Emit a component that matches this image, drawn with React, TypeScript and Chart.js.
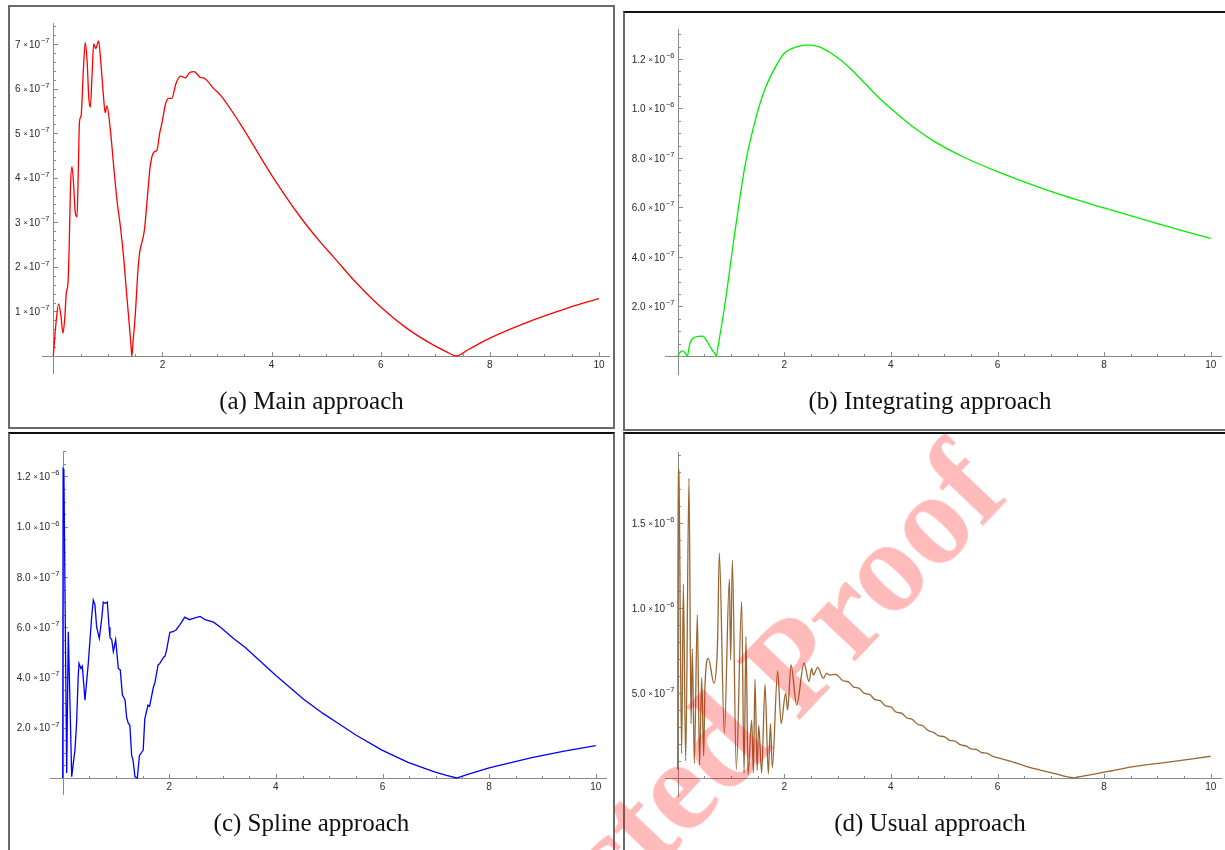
import React, { useEffect, useRef } from 'react';
import { Chart, registerables } from 'chart.js';

Chart.register(...registerables);

// values are in units of 1e-7
const UNIT = 1e-7;

const xTickValues = [2, 4, 6, 8, 10];
const xTickLabels = ['2', '4', '6', '8', '10'];

// (a) Main approach
const mainX = [0, 0.05, 0.097, 0.14, 0.177, 0.21, 0.238, 0.27, 0.29, 0.315, 0.342, 0.37, 0.4, 0.434, 0.455, 0.48, 0.51, 0.55, 0.586, 0.62, 0.65, 0.678, 0.71, 0.74, 0.78, 0.83, 0.87, 0.92, 0.95, 0.983, 1.044, 1.1, 1.166, 1.23, 1.288, 1.34, 1.38, 1.42, 1.44, 1.46, 1.5, 1.55, 1.58, 1.62, 1.67, 1.73, 1.77, 1.807, 1.85, 1.9, 1.95, 1.99, 2.05, 2.08, 2.12, 2.17, 2.25, 2.33, 2.42, 2.5, 2.58, 2.64, 2.69, 2.75, 2.81, 2.94, 3.06, 3.42, 4.0, 4.52, 4.89, 5.13, 5.5, 5.99, 6.48, 6.96, 7.2, 7.39, 7.6, 8.0, 8.8, 9.41, 10];
const mainY = [0, 0.75, 1.17, 0.9, 0.51, 0.85, 1.41, 1.65, 2.4, 3.8, 4.25, 3.9, 3.25, 3.12, 4.0, 5.26, 5.4, 6.4, 7.03, 6.6, 5.8, 5.58, 6.3, 7.0, 6.9, 7.07, 6.6, 5.82, 5.46, 5.61, 5.09, 4.35, 3.5, 2.9, 2.23, 1.45, 0.88, 0.3, 0, 0.3, 0.88, 1.9, 2.3, 2.53, 2.83, 3.65, 4.2, 4.47, 4.58, 4.62, 5.0, 5.22, 5.62, 5.74, 5.78, 5.78, 6.12, 6.28, 6.24, 6.36, 6.38, 6.32, 6.25, 6.24, 6.19, 6.0, 5.86, 5.22, 4.06, 3.13, 2.56, 2.23, 1.71, 1.11, 0.62, 0.25, 0.1, 0, 0.14, 0.4, 0.81, 1.07, 1.29];

// (b) Integrating approach
const integX = [0, 0.05, 0.1, 0.14, 0.18, 0.22, 0.26, 0.35, 0.47, 0.53, 0.62, 0.7, 0.726, 0.75, 0.88, 1.07, 1.26, 1.44, 1.63, 1.82, 2.0, 2.25, 2.44, 2.64, 2.88, 3.2, 3.51, 3.82, 4.14, 4.45, 4.82, 5.4, 6.0, 7.0, 8.0, 9.0, 10.0];
const integY = [0, 0.16, 0.21, 0.12, 0, 0.42, 0.65, 0.78, 0.8, 0.66, 0.33, 0.08, 0, 0.3, 2.0, 4.96, 7.65, 9.4, 10.75, 11.62, 12.23, 12.5, 12.57, 12.5, 12.23, 11.7, 11.02, 10.34, 9.74, 9.2, 8.66, 8.0, 7.45, 6.65, 5.98, 5.35, 4.75];

// (c) Spline approach
const splineX = [0, 0.008, 0.022, 0.075, 0.105, 0.169, 0.2, 0.23, 0.26, 0.29, 0.306, 0.343, 0.368, 0.418, 0.48, 0.544, 0.574, 0.605, 0.637, 0.687, 0.73, 0.762, 0.8, 0.837, 0.87, 0.887, 0.92, 0.95, 0.994, 1.043, 1.08, 1.12, 1.137, 1.17, 1.2, 1.23, 1.26, 1.294, 1.32, 1.356, 1.4, 1.44, 1.51, 1.54, 1.6, 1.63, 1.7, 1.73, 1.79, 1.82, 1.89, 1.92, 1.95, 2.01, 2.07, 2.13, 2.2, 2.29, 2.38, 2.45, 2.58, 2.67, 2.83, 2.96, 3.2, 3.42, 4.0, 4.52, 4.89, 5.13, 5.5, 5.99, 6.48, 6.96, 7.2, 7.39, 7.6, 8.0, 8.8, 9.41, 10];
const splineY = [0, 12.3, 12.25, 0.2, 5.82, 0.05, 0.6, 1.11, 2.17, 4.0, 4.56, 4.36, 4.45, 3.1, 4.56, 6.42, 7.08, 6.9, 6.0, 5.56, 6.3, 7.0, 6.95, 7.0, 6.0, 5.6, 5.5, 5.03, 5.5, 4.36, 4.3, 3.3, 3.24, 3.1, 2.4, 2.18, 2.1, 0.9, 0.7, 0.05, 0, 0.9, 1.1, 2.35, 2.9, 2.85, 3.6, 3.8, 4.5, 4.55, 4.8, 4.85, 5.1, 5.8, 5.82, 5.9, 6.1, 6.4, 6.3, 6.35, 6.43, 6.3, 6.2, 6.0, 5.56, 5.2, 4.08, 3.13, 2.56, 2.23, 1.71, 1.11, 0.62, 0.25, 0.1, 0, 0.14, 0.4, 0.81, 1.07, 1.29];

// (d) Usual approach
const usualX = [0, 0.008, 0.02, 0.074, 0.106, 0.15, 0.212, 0.25, 0.274, 0.312, 0.368, 0.41, 0.45, 0.487, 0.512, 0.575, 0.681, 0.735, 0.75, 0.781, 0.875, 0.969, 0.994, 1.025, 1.1, 1.2, 1.245, 1.281, 1.32, 1.388, 1.42, 1.45, 1.49, 1.52, 1.575, 1.638, 1.7, 1.74, 1.775, 1.875, 1.94, 2.025, 2.063, 2.126, 2.232, 2.37, 2.463, 2.513, 2.545, 2.626, 2.732, 2.795, 2.85, 2.951, 3.0, 3.1, 3.2, 3.3, 3.4, 3.5, 3.6, 3.7, 3.8, 3.9, 4.0, 4.1, 4.2, 4.3, 4.4, 4.5, 4.6, 4.7, 4.8, 4.9, 5.0, 5.1, 5.2, 5.3, 5.42, 5.5, 5.6, 5.7, 5.8, 5.9, 6.05, 6.2, 6.4, 6.6, 6.8, 7.0, 7.2, 7.35, 7.42, 7.5, 8.05, 8.55, 9.17, 10.0];
const usualY = [0.5, 18.2, 18.1, 1.45, 11.4, 1.0, 17.63, 3.2, 7.6, 0.86, 9.6, 0.77, 5.9, 1.3, 5.4, 7.04, 5.57, 6.94, 8.3, 13.22, 2.63, 11.69, 6.94, 12.82, 0.5, 10.37, 0.3, 8.31, 0.2, 3.41, 0.3, 5.8, 0.45, 3.1, 0.3, 5.5, 0.25, 3.2, 0.6, 6.3, 3.2, 4.98, 4.0, 6.65, 4.29, 6.75, 5.67, 6.45, 6.06, 6.51, 5.86, 6.16, 6.05, 6.1, 6.03, 5.72, 5.66, 5.35, 5.29, 4.98, 4.92, 4.61, 4.55, 4.24, 4.18, 3.87, 3.81, 3.53, 3.45, 3.16, 3.07, 2.79, 2.68, 2.48, 2.43, 2.22, 2.17, 1.96, 1.87, 1.72, 1.68, 1.5, 1.46, 1.29, 1.16, 1.02, 0.83, 0.63, 0.47, 0.32, 0.16, 0.05, 0, 0.05, 0.37, 0.67, 0.92, 1.28];

// y tick values (units of 1e-7) and labels
const yTicksMain = [1, 2, 3, 4, 5, 6, 7];
const yLabelsMain = ['1×10^−7', '2×10^−7', '3×10^−7', '4×10^−7', '5×10^−7', '6×10^−7', '7×10^−7'];
const yTicksInteg = [2, 4, 6, 8, 10, 12];
const yLabelsInteg = ['2.0×10^−7', '4.0×10^−7', '6.0×10^−7', '8.0×10^−7', '1.0×10^−6', '1.2×10^−6'];
const yTicksSpline = [2, 4, 6, 8, 10, 12];
const yLabelsSpline = ['2.0×10^−7', '4.0×10^−7', '6.0×10^−7', '8.0×10^−7', '1.0×10^−6', '1.2×10^−6'];
const yTicksUsual = [5, 10, 15];
const yLabelsUsual = ['5.0×10^−7', '1.0×10^−6', '1.5×10^−6'];

const captions = ['(a) Main approach', '(b) Integrating approach', '(c) Spline approach', '(d) Usual approach'];
const watermark = 'Uncorrected Proof';

const AXIS_COLOR = '#8a8a8a';
const LABEL_COLOR = '#2a2a2a';
const X_MINOR = 0.5;

type PanelCfg = {
  key: string;
  color: string;
  xs: number[];
  ys: number[];
  yTicks: number[];
  yLabels: string[];
  yMinor: number;
  smooth: boolean;
  canvas: { left: number; top: number; width: number; height: number };
  area: { left: number; top: number; right: number; bottom: number };
  xRange: [number, number];
  yRange: [number, number];
};

const PANELS: PanelCfg[] = [
  {
    key: 'a', color: '#ff0000', xs: mainX, ys: mainY, yTicks: yTicksMain, yLabels: yLabelsMain, yMinor: 0.2, smooth: true,
    canvas: { left: 10, top: 7, width: 603, height: 380 },
    area: { left: 42, top: 23, right: 610, bottom: 374 },
    xRange: [-0.2071, 10.2016], yRange: [-0.4039, 7.4714],
  },
  {
    key: 'b', color: '#00ee00', xs: integX, ys: integY, yTicks: yTicksInteg, yLabels: yLabelsInteg, yMinor: 0.5, smooth: true,
    canvas: { left: 625, top: 13, width: 600, height: 380 },
    area: { left: 665, top: 29, right: 1222, bottom: 375 },
    xRange: [-0.2383, 10.212], yRange: [-0.768, 13.212],
  },
  {
    key: 'c', color: '#0000ff', xs: splineX, ys: splineY, yTicks: yTicksSpline, yLabels: yLabelsSpline, yMinor: 0.5, smooth: false,
    canvas: { left: 10, top: 434, width: 603, height: 380 },
    area: { left: 50, top: 451, right: 607, bottom: 795 },
    xRange: [-0.2383, 10.212], yRange: [-0.6765, 13.012],
  },
  {
    key: 'd', color: '#996633', xs: usualX, ys: usualY, yTicks: yTicksUsual, yLabels: yLabelsUsual, yMinor: 1, smooth: true,
    canvas: { left: 625, top: 434, width: 600, height: 380 },
    area: { left: 665, top: 452, right: 1222, bottom: 797 },
    xRange: [-0.2383, 10.212], yRange: [-1.1176, 19.176],
  },
];

function drawSci(ctx: CanvasRenderingContext2D, right: number, midY: number, label: string) {
  const [mant, exp] = label.split('×10^');
  const fMain = '10px "Liberation Sans", Arial, sans-serif';
  const fTimes = '8px "Liberation Sans", Arial, sans-serif';
  const fSup = '7.5px "Liberation Sans", Arial, sans-serif';
  ctx.font = fMain;
  const wM = ctx.measureText(mant).width;
  const w10 = ctx.measureText('10').width;
  ctx.font = fTimes;
  const wT = ctx.measureText('×').width;
  ctx.font = fSup;
  const wE = ctx.measureText(exp).width;
  const g1 = 2.6, g2 = 1.2, g3 = 0.8;
  const total = wM + g1 + wT + g2 + w10 + g3 + wE;
  let x = right - total;
  const base = midY + 3.6;
  ctx.textAlign = 'left';
  ctx.textBaseline = 'alphabetic';
  ctx.font = fMain;
  ctx.fillText(mant, x, base);
  x += wM + g1;
  ctx.font = fTimes;
  ctx.fillText('×', x, base - 0.6);
  x += wT + g2;
  ctx.font = fMain;
  ctx.fillText('10', x, base);
  x += w10 + g3;
  ctx.font = fSup;
  ctx.fillText(exp, x, base - 4.6);
}

function axesPlugin(p: PanelCfg) {
  return {
    id: 'mmaAxes_' + p.key,
    beforeDatasetsDraw(chart: any) {
      const { ctx, chartArea: a, scales } = chart;
      const xs = scales.x;
      const ys = scales.y;
      const px0 = Math.round(xs.getPixelForValue(0)) + 0.5;
      const py0 = Math.round(ys.getPixelForValue(0)) + 0.5;
      ctx.save();
      ctx.strokeStyle = AXIS_COLOR;
      ctx.lineWidth = 1;
      ctx.beginPath();
      ctx.moveTo(a.left, py0);
      ctx.lineTo(a.right, py0);
      ctx.moveTo(px0, a.top);
      ctx.lineTo(px0, a.bottom);
      for (let k = 1; k * X_MINOR <= xs.max + 1e-9; k++) {
        const v = k * X_MINOR;
        const major = xTickValues.some((t) => Math.abs(t - v) < 1e-9);
        const px = Math.round(xs.getPixelForValue(v)) + 0.5;
        ctx.moveTo(px, py0);
        ctx.lineTo(px, py0 - (major ? 4.5 : 2.5));
      }
      const yMaxU = ys.max / UNIT;
      for (let k = 1; k * p.yMinor <= yMaxU + 1e-9; k++) {
        const v = k * p.yMinor;
        const major = p.yTicks.some((t) => Math.abs(t - v) < 1e-9);
        const py = Math.round(ys.getPixelForValue(v * UNIT)) + 0.5;
        ctx.moveTo(px0, py);
        ctx.lineTo(px0 + (major ? 4.5 : 2.5), py);
      }
      ctx.stroke();
      ctx.fillStyle = LABEL_COLOR;
      ctx.font = '10px "Liberation Sans", Arial, sans-serif';
      ctx.textAlign = 'center';
      ctx.textBaseline = 'alphabetic';
      xTickValues.forEach((v, i) => {
        ctx.fillText(xTickLabels[i], xs.getPixelForValue(v), py0 + 11.8);
      });
      p.yTicks.forEach((v, i) => {
        drawSci(ctx, px0 - 4, ys.getPixelForValue(v * UNIT), p.yLabels[i]);
      });
      ctx.restore();
    },
  };
}

function PanelChart({ p }: { p: PanelCfg }) {
  const ref = useRef<HTMLCanvasElement>(null);
  useEffect(() => {
    const canvas = ref.current;
    if (!canvas) return;
    const c = p.canvas;
    const padding = {
      left: p.area.left - c.left,
      top: p.area.top - c.top,
      right: c.left + c.width - p.area.right,
      bottom: c.top + c.height - p.area.bottom,
    };
    const chart = new Chart(canvas, {
      type: 'line',
      data: {
        datasets: [
          {
            data: p.xs.map((x, i) => ({ x, y: p.ys[i] * UNIT })),
            borderColor: p.color,
            borderWidth: 1.3,
            pointRadius: 0,
            fill: false,
            tension: 0,
            cubicInterpolationMode: p.smooth ? 'monotone' : 'default',
          } as any,
        ],
      },
      options: {
        responsive: false,
        animation: false,
        devicePixelRatio: 1,
        layout: { padding },
        events: [],
        plugins: { legend: { display: false }, tooltip: { enabled: false } },
        scales: {
          x: { type: 'linear', min: p.xRange[0], max: p.xRange[1], display: false },
          y: { type: 'linear', min: p.yRange[0] * UNIT, max: p.yRange[1] * UNIT, display: false },
        },
      },
      plugins: [axesPlugin(p)],
    });
    return () => chart.destroy();
  }, [p]);
  const c = p.canvas;
  return (
    <canvas
      ref={ref}
      width={c.width}
      height={c.height}
      style={{ position: 'absolute', left: c.left, top: c.top, width: c.width, height: c.height }}
    />
  );
}

const captionFont = '"Liberation Serif", "DejaVu Serif", serif';

export default function App() {
  const frames = [
    { left: 8, top: 5, width: 607, height: 424, top_c: '#6a6a6a' },
    { left: 623, top: 11, width: 620, height: 420, top_c: '#111' },
    { left: 8, top: 432, width: 607, height: 440, top_c: '#111' },
    { left: 623, top: 432, width: 620, height: 440, top_c: '#111' },
  ];
  const capPos = [
    { left: 8, top: 386, width: 607 },
    { left: 623, top: 386, width: 614 },
    { left: 8, top: 808, width: 607 },
    { left: 623, top: 808, width: 614 },
  ];
  return (
    <div style={{ position: 'absolute', left: 0, top: 0, width: 1225, height: 850, overflow: 'hidden', background: '#fff' }}>
      {frames.map((f, i) => (
        <div
          key={'f' + i}
          style={{
            position: 'absolute', left: f.left, top: f.top, width: f.width, height: f.height, boxSizing: 'border-box',
            borderLeft: '2px solid #6a6a6a', borderRight: '2px solid #6a6a6a', borderBottom: '2px solid #6a6a6a',
            borderTop: '2px solid ' + f.top_c,
          }}
        />
      ))}
      {PANELS.map((p) => (
        <PanelChart key={p.key} p={p} />
      ))}
      {capPos.map((c, i) => (
        <div
          key={'c' + i}
          style={{
            position: 'absolute', left: c.left, top: c.top, width: c.width, textAlign: 'center',
            font: '25px ' + captionFont, lineHeight: '30px', color: '#111', whiteSpace: 'nowrap',
          }}
        >
          {captions[i]}
        </div>
      ))}
      <div
        style={{
          position: 'absolute', left: 216, top: 1175, transformOrigin: '0 0', transform: 'rotate(-46.5deg)',
          font: 'bold 131px ' + captionFont, lineHeight: '131px', color: 'rgba(255,0,0,0.27)', whiteSpace: 'nowrap',
          pointerEvents: 'none',
        }}
      >
        {watermark}
      </div>
    </div>
  );
}
